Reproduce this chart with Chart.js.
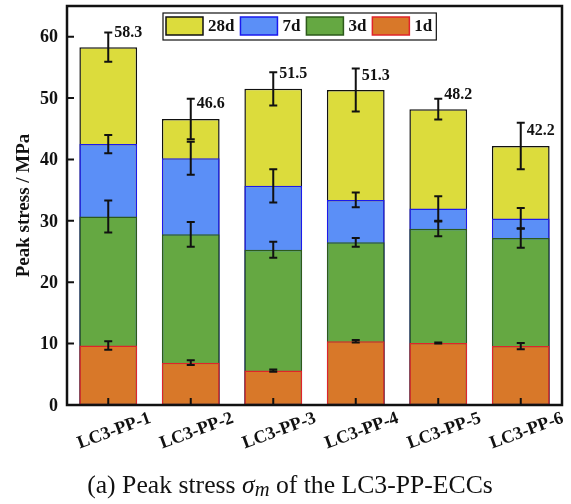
<!DOCTYPE html>
<html>
<head>
<meta charset="utf-8">
<script src="https://cdn.jsdelivr.net/npm/chart.js@4/dist/chart.umd.min.js"></script>
<style>
  body { margin: 0; background: #fff; }
  #wrap { position: relative; width: 571px; height: 504px; }
  #caption {
    position: absolute;
    top: 470px;
    left: 290px;
    transform: translateX(-50%);
    white-space: nowrap;
    font-family: 'Liberation Serif', serif;
    font-size: 25.7px;
    color: #111;
  }
</style>
</head>
<body>
<div id="wrap">
  <canvas id="stress" width="571" height="504"></canvas>
  <div id="caption">(a) Peak stress <i>σ<sub style="font-size:0.8em;vertical-align:-0.15em">m</sub></i> of the LC3-PP-ECCs</div>
</div>
<script>
const mixes = ['LC3-PP-1', 'LC3-PP-2', 'LC3-PP-3', 'LC3-PP-4', 'LC3-PP-5', 'LC3-PP-6'];

// peak stress (MPa) and std dev per curing age
const stress1d = [9.7, 6.9, 5.6, 10.4, 10.1, 9.6];
const err1d = [0.7, 0.4, 0.2, 0.2, 0.1, 0.5];
const stress3d = [30.7, 27.8, 25.3, 26.5, 28.7, 27.2];
const err3d = [2.6, 2.0, 1.3, 0.7, 1.2, 1.6];
const stress7d = [42.5, 40.2, 35.7, 33.4, 32.0, 30.4];
const err7d = [1.5, 2.7, 2.7, 1.2, 2.0, 1.7];
const stress28d = [58.3, 46.6, 51.5, 51.3, 48.2, 42.2];
const err28d = [2.4, 3.3, 2.7, 3.5, 1.7, 3.8];

const yTicks = [0, 10, 20, 30, 40, 50, 60];

const serif = 'Liberation Serif';

// legend entries, drawn inside the plot frame
const legendItems = [
  { text: '28d', fill: '#dcdc3c', stroke: '#111111' },
  { text: '7d', fill: '#5b8ff7', stroke: '#1a1aee' },
  { text: '3d', fill: '#65a842', stroke: '#2d5a1b' },
  { text: '1d', fill: '#d87829', stroke: '#e0242a' },
];

// 1d first so it sits on top, 28d last so it's drawn behind
const datasets = [
  { label: '1d', data: stress1d, err: err1d, backgroundColor: '#d87829', borderColor: '#e0242a' },
  { label: '3d', data: stress3d, err: err3d, backgroundColor: '#65a842', borderColor: '#2d5a1b' },
  { label: '7d', data: stress7d, err: err7d, backgroundColor: '#5b8ff7', borderColor: '#1a1aee' },
  { label: '28d', data: stress28d, err: err28d, backgroundColor: '#dcdc3c', borderColor: '#111111' },
].map((d) => ({
  ...d,
  borderWidth: 1.5,
  borderSkipped: false,
  barPercentage: 0.7,
  categoryPercentage: 1,
}));

const errorBars = {
  id: 'errorBars',
  afterDatasetsDraw(chart) {
    const { ctx } = chart;
    const y = chart.scales.y;
    ctx.save();
    ctx.strokeStyle = '#111';
    ctx.lineWidth = 2;
    chart.data.datasets.forEach((ds, di) => {
      const meta = chart.getDatasetMeta(di);
      meta.data.forEach((bar, i) => {
        const top = y.getPixelForValue(ds.data[i] + ds.err[i]);
        const bot = y.getPixelForValue(ds.data[i] - ds.err[i]);
        const cap = 4;
        ctx.beginPath();
        ctx.moveTo(bar.x, top);
        ctx.lineTo(bar.x, bot);
        ctx.moveTo(bar.x - cap, top);
        ctx.lineTo(bar.x + cap, top);
        ctx.moveTo(bar.x - cap, bot);
        ctx.lineTo(bar.x + cap, bot);
        ctx.stroke();
      });
    });

    // 28d totals beside the top error bar
    const meta28 = chart.getDatasetMeta(3);
    ctx.fillStyle = '#111';
    ctx.font = `bold 16px "${serif}"`;
    ctx.textAlign = 'left';
    ctx.textBaseline = 'middle';
    meta28.data.forEach((bar, i) => {
      ctx.fillText(stress28d[i].toFixed(1), bar.x + 6, y.getPixelForValue(stress28d[i] + 2.4));
    });
    ctx.restore();
  },
};

const frame = {
  id: 'frame',
  afterDraw(chart) {
    const { ctx, chartArea: a } = chart;
    const x = chart.scales.x;
    const y = chart.scales.y;
    ctx.save();
    ctx.strokeStyle = '#111';

    // inward tick marks
    ctx.lineWidth = 2;
    ctx.beginPath();
    yTicks.forEach((v) => {
      const py = y.getPixelForValue(v);
      ctx.moveTo(a.left, py);
      ctx.lineTo(a.left + 7, py);
    });
    mixes.forEach((m, i) => {
      const px = x.getPixelForValue(i);
      ctx.moveTo(px, a.bottom);
      ctx.lineTo(px, a.bottom - 7);
    });
    ctx.stroke();

    ctx.lineWidth = 2.5;
    ctx.strokeRect(a.left, a.top, a.right - a.left, a.bottom - a.top);

    // y tick labels
    ctx.fillStyle = '#111';
    ctx.font = `bold 18px "${serif}"`;
    ctx.textAlign = 'right';
    ctx.textBaseline = 'middle';
    yTicks.forEach((v) => {
      ctx.fillText(String(v), a.left - 9, y.getPixelForValue(v) + 1);
    });

    // rotated category labels
    ctx.textAlign = 'center';
    mixes.forEach((m, i) => {
      ctx.save();
      ctx.translate(x.getPixelForValue(i) + 6, a.bottom + 26);
      ctx.rotate(-20 * Math.PI / 180);
      ctx.fillText(m, 0, 0);
      ctx.restore();
    });

    // legend
    ctx.font = `bold 17px "${serif}"`;
    ctx.textAlign = 'left';
    const lx = a.left + 96;
    const ly = a.top + 7;
    let cx = lx + 3;
    legendItems.forEach((item) => {
      ctx.fillStyle = item.fill;
      ctx.fillRect(cx, ly + 4, 37, 18);
      ctx.strokeStyle = item.stroke;
      ctx.lineWidth = 1.5;
      ctx.strokeRect(cx, ly + 4, 37, 18);
      ctx.fillStyle = '#111';
      ctx.fillText(item.text, cx + 42, ly + 14);
      cx += 42 + ctx.measureText(item.text).width + 6;
    });
    ctx.strokeStyle = '#111';
    ctx.lineWidth = 1.2;
    ctx.strokeRect(lx, ly, cx - lx - 2, 27);
    ctx.restore();
  },
};

new Chart(document.getElementById('stress'), {
  type: 'bar',
  data: { labels: mixes, datasets: datasets },
  options: {
    responsive: false,
    animation: false,
    layout: { padding: { top: 6, right: 9, left: 0, bottom: 0 } },
    plugins: {
      legend: { display: false },
      tooltip: { enabled: false },
    },
    scales: {
      x: {
        stacked: true,
        grid: { display: false, drawTicks: false },
        border: { display: false },
        ticks: { display: false },
        afterFit: (s) => { s.height = 99; },
      },
      y: {
        stacked: false,
        min: 0,
        max: 65,
        grid: { display: false, drawTicks: false },
        border: { display: false },
        ticks: { display: false, stepSize: 10 },
        title: {
          display: true,
          text: 'Peak stress / MPa',
          color: '#111',
          padding: { top: 13, bottom: 0 },
          font: { family: serif, size: 19, weight: 'bold' },
        },
        afterFit: (s) => { s.width = 67; },
      },
    },
  },
  plugins: [errorBars, frame],
});
</script>
</body>
</html>
